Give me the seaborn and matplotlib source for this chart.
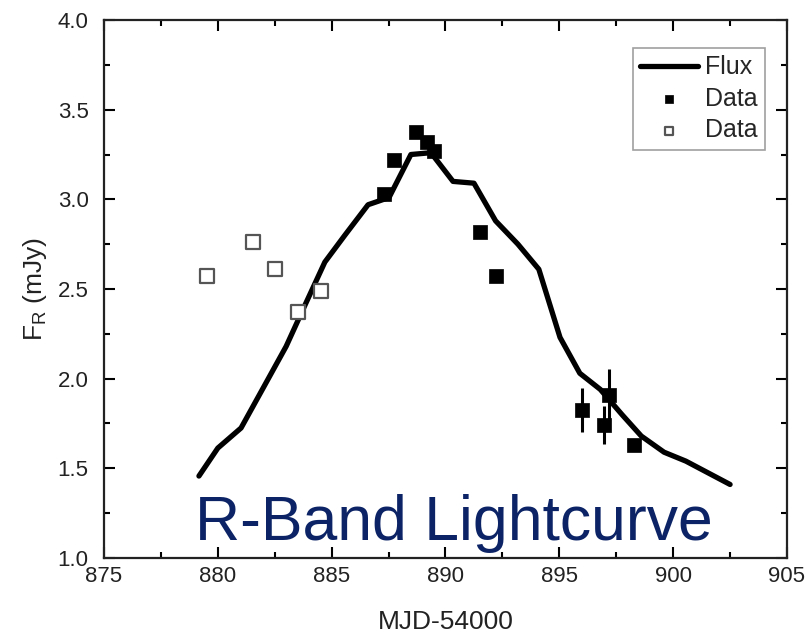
import numpy as np
import pandas as pd
import matplotlib
matplotlib.use("Agg")
import matplotlib.pyplot as plt
import seaborn as sns
from matplotlib.ticker import MultipleLocator

# Model flux curve
flux_mjd = [879.17, 880.0, 881.02, 882.0, 883.0, 883.9, 884.7, 885.58, 886.6, 887.52,
            888.48, 889.36, 890.33, 891.25, 892.2, 893.18, 894.1, 895.03, 895.9,
            896.8, 897.75, 898.6, 899.6, 900.56, 902.5]
flux_val = [1.457, 1.613, 1.725, 1.95, 2.18, 2.43, 2.65, 2.80, 2.97, 3.01,
            3.25, 3.26, 3.10, 3.09, 2.88, 2.75, 2.61, 2.23, 2.03,
            1.94, 1.80, 1.68, 1.59, 1.54, 1.41]

# Filled data
data_mjd = [887.3, 887.74, 888.7, 889.19, 889.5, 891.5, 892.2, 895.99, 896.96, 897.18, 898.28]
data_val = [3.03, 3.22, 3.375, 3.32, 3.27, 2.82, 2.57, 1.825, 1.74, 1.91, 1.63]
data_err = [0.0, 0.0, 0.0, 0.0, 0.0, 0.0, 0.0, 0.125, 0.105, 0.145, 0.0]

# Open data
open_mjd = [879.52, 881.54, 882.5, 883.52, 884.53]
open_val = [2.57, 2.76, 2.61, 2.37, 2.49]

sns.set_theme(style="ticks")
plt.rcParams['font.family'] = ['Liberation Sans', 'DejaVu Sans']
plt.rcParams['mathtext.fontset'] = 'custom'
plt.rcParams['mathtext.rm'] = 'Liberation Sans'

fig = plt.figure(figsize=(8.07, 6.34), dpi=100)
ax = fig.add_axes([104/807, 1 - 558/634, (787-104)/807, (558-20)/634])

df_flux = pd.DataFrame({"mjd": flux_mjd, "flux": flux_val})
df_data = pd.DataFrame({"mjd": data_mjd, "flux": data_val, "err": data_err})
df_open = pd.DataFrame({"mjd": open_mjd, "flux": open_val})

sns.lineplot(data=df_flux, x="mjd", y="flux", ax=ax, color="black", lw=3.8,
             sort=False, label="Flux", zorder=3)
eb = df_data[df_data["err"] > 0]
ax.errorbar(eb["mjd"], eb["flux"], yerr=eb["err"], fmt="none", ecolor="black",
            elinewidth=2.2, capsize=0, zorder=4)
sns.scatterplot(data=df_data, x="mjd", y="flux", ax=ax, marker="s", s=110,
                color="black", edgecolor="black", linewidth=0.5, label="Data", zorder=5)
sns.scatterplot(data=df_open, x="mjd", y="flux", ax=ax, marker="s", s=95,
                facecolor="white", edgecolor="#555555", linewidth=1.6, label="Data", zorder=5)

ax.set_xlim(875, 905)
ax.set_ylim(1.0, 4.0)
ax.xaxis.set_major_locator(MultipleLocator(5))
ax.xaxis.set_minor_locator(MultipleLocator(2.5))
ax.yaxis.set_major_locator(MultipleLocator(0.5))
ax.yaxis.set_minor_locator(MultipleLocator(0.25))
ax.set_yticks(np.arange(1.0, 4.01, 0.5))
ax.set_yticklabels([f"{v:.1f}" for v in np.arange(1.0, 4.01, 0.5)])
ax.tick_params(which="both", direction="in", top=True, right=True, color="black", width=1.5)
ax.tick_params(which="major", length=8, labelsize=16, labelcolor="#222222")
ax.tick_params(axis="x", which="major", pad=6)
ax.tick_params(axis="y", which="major", pad=11)
ax.tick_params(which="minor", length=4)
for sp in ax.spines.values():
    sp.set_color("#222222")
    sp.set_linewidth(1.6)

ax.set_xlabel("MJD-54000", fontsize=19, color="#222222", labelpad=16)
ax.set_ylabel(r"F$_\mathregular{R}$ (mJy)", fontsize=19, color="#222222", labelpad=6)

leg = ax.legend(loc="upper right", bbox_to_anchor=(0.968, 0.948), fontsize=18,
                frameon=True, fancybox=False, handlelength=2.3, handletextpad=0.3,
                borderpad=0.3, labelspacing=0.3, markerscale=0.6, borderaxespad=0)
leg.get_frame().set_edgecolor("#888888")
leg.get_frame().set_linewidth(1.2)

ax.text((454 - 104) / 683, (558 - 540) / 538, "R-Band Lightcurve", transform=ax.transAxes,
        fontsize=45, color="#0c2466", ha="center", va="baseline", zorder=6)

fig.savefig("out.png", dpi=100)
